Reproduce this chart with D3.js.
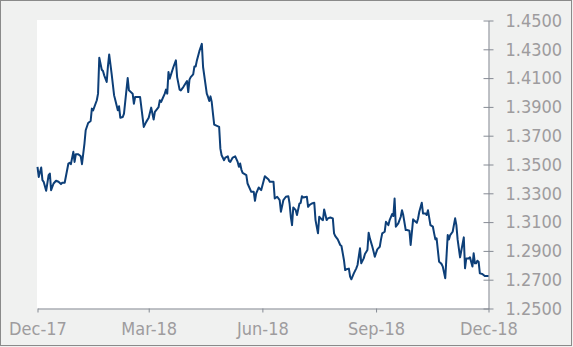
<!DOCTYPE html>
<html>
<head>
<meta charset="utf-8">
<script src="https://cdn.jsdelivr.net/npm/d3@7"></script>
<style>
  html, body { margin: 0; padding: 0; background: #f0f1f0; }
  svg { display: block; }
  .tick text { font-family: "DejaVu Sans Condensed", "DejaVu Sans", sans-serif; font-stretch: condensed; font-size: 18px; fill: #9e9c9e; }
</style>
</head>
<body>
<svg width="573" height="347"></svg>
<script>
// GBP/USD, Dec-17 to Dec-18
const dates = [
  "2017-12-01","2017-12-02","2017-12-04","2017-12-05","2017-12-06","2017-12-08","2017-12-10","2017-12-11","2017-12-12","2017-12-14",
  "2017-12-16","2017-12-18","2017-12-20","2017-12-21","2017-12-23","2017-12-26","2017-12-27","2017-12-28","2017-12-30","2017-12-31",
  "2018-01-01","2018-01-03","2018-01-05","2018-01-06","2018-01-08","2018-01-09","2018-01-11","2018-01-13","2018-01-14","2018-01-15",
  "2018-01-18","2018-01-19","2018-01-20","2018-01-22","2018-01-23","2018-01-24","2018-01-26","2018-01-27","2018-01-28","2018-01-30",
  "2018-02-01","2018-02-02","2018-02-04","2018-02-05","2018-02-06","2018-02-08","2018-02-09","2018-02-12","2018-02-13","2018-02-16",
  "2018-02-17","2018-02-18","2018-02-20","2018-02-22","2018-02-25","2018-02-27","2018-03-01","2018-03-03","2018-03-05","2018-03-06",
  "2018-03-09","2018-03-10","2018-03-11","2018-03-14","2018-03-15","2018-03-16","2018-03-17","2018-03-18","2018-03-21","2018-03-23",
  "2018-03-24","2018-03-26","2018-03-27","2018-03-29","2018-03-31","2018-04-01","2018-04-02","2018-04-03","2018-04-04","2018-04-06",
  "2018-04-07","2018-04-08","2018-04-09","2018-04-11","2018-04-13","2018-04-14","2018-04-17","2018-04-18","2018-04-19","2018-04-20",
  "2018-04-21","2018-04-22","2018-04-23","2018-04-27","2018-04-28","2018-04-29","2018-05-01","2018-05-02","2018-05-04","2018-05-05",
  "2018-05-06","2018-05-08","2018-05-10","2018-05-12","2018-05-13","2018-05-14","2018-05-15","2018-05-16","2018-05-19","2018-05-20",
  "2018-05-23","2018-05-25","2018-05-26","2018-05-27","2018-05-29","2018-05-31","2018-06-03","2018-06-06","2018-06-07","2018-06-10",
  "2018-06-11","2018-06-13","2018-06-15","2018-06-16","2018-06-18","2018-06-20","2018-06-22","2018-06-23","2018-06-24","2018-06-25",
  "2018-06-26","2018-06-28","2018-06-29","2018-07-01","2018-07-02","2018-07-03","2018-07-04","2018-07-07","2018-07-08","2018-07-09",
  "2018-07-11","2018-07-13","2018-07-14","2018-07-16","2018-07-17","2018-07-19","2018-07-20","2018-07-21","2018-07-23","2018-07-24",
  "2018-07-26","2018-07-28","2018-07-29","2018-07-30","2018-08-01","2018-08-03","2018-08-04","2018-08-06","2018-08-07","2018-08-08",
  "2018-08-10","2018-08-11","2018-08-12","2018-08-14","2018-08-16","2018-08-17","2018-08-19","2018-08-20","2018-08-22","2018-08-23",
  "2018-08-25","2018-08-26","2018-08-27","2018-08-29","2018-08-30","2018-08-31","2018-09-02","2018-09-04","2018-09-05","2018-09-06",
  "2018-09-08","2018-09-09","2018-09-11","2018-09-12","2018-09-14","2018-09-15","2018-09-16","2018-09-17","2018-09-19","2018-09-21",
  "2018-09-22","2018-09-23","2018-09-25","2018-09-26","2018-09-28","2018-09-29","2018-10-01","2018-10-03","2018-10-04","2018-10-05",
  "2018-10-06","2018-10-08","2018-10-09","2018-10-11","2018-10-12","2018-10-13","2018-10-15","2018-10-17","2018-10-18","2018-10-19",
  "2018-10-20","2018-10-22","2018-10-23","2018-10-24","2018-10-25","2018-10-27","2018-10-29","2018-10-30","2018-10-31","2018-11-02",
  "2018-11-04","2018-11-05","2018-11-06","2018-11-08","2018-11-11","2018-11-12","2018-11-13","2018-11-15","2018-11-16","2018-11-18",
  "2018-11-19","2018-11-20","2018-11-21","2018-11-22","2018-11-23","2018-11-24","2018-11-26","2018-11-27","2018-11-28","2018-11-30",
  "2018-12-01"
];
const rates = [
  1.3484,1.3414,1.3479,1.3391,1.3380,1.3317,1.3426,1.3437,1.3322,1.3368,
  1.3387,1.3380,1.3364,1.3373,1.3373,1.3507,1.3512,1.3502,1.3588,1.3518,
  1.3571,1.3571,1.3557,1.3502,1.3645,1.3738,1.3788,1.3802,1.3888,1.3876,
  1.3946,1.3992,1.4241,1.4158,1.4149,1.4119,1.4073,1.4181,1.4264,1.4130,
  1.3980,1.3946,1.3876,1.3904,1.3825,1.3830,1.3853,1.4100,1.4015,1.3992,
  1.3922,1.3969,1.3969,1.3969,1.3761,1.3796,1.3825,1.3895,1.3812,1.3865,
  1.3899,1.3946,1.3934,1.3992,1.4020,1.3992,1.4142,1.4096,1.4177,1.4223,
  1.4107,1.4020,1.4015,1.4038,1.4066,1.4080,1.4003,1.4089,1.4107,1.4126,
  1.4181,1.4181,1.4223,1.4287,1.4338,1.4177,1.3992,1.3969,1.3941,1.3973,
  1.3934,1.3853,1.3777,1.3761,1.3610,1.3564,1.3530,1.3548,1.3557,1.3525,
  1.3518,1.3548,1.3557,1.3518,1.3484,1.3507,1.3465,1.3442,1.3426,1.3368,
  1.3310,1.3310,1.3248,1.3299,1.3340,1.3322,1.3419,1.3396,1.3380,1.3380,
  1.3264,1.3276,1.3253,1.3172,1.3253,1.3276,1.3280,1.3229,1.3137,1.3079,
  1.3202,1.3183,1.3149,1.3229,1.3234,1.3280,1.3271,1.3276,1.3206,1.3218,
  1.3229,1.3234,1.3114,1.3022,1.3137,1.3119,1.3114,1.3188,1.3114,1.3126,
  1.3132,1.3126,1.3022,1.3003,1.2980,1.2941,1.2934,1.2837,1.2767,1.2772,
  1.2777,1.2721,1.2703,1.2744,1.2779,1.2802,1.2918,1.2814,1.2848,1.2878,
  1.2906,1.3026,1.2987,1.2929,1.2895,1.2860,1.2911,1.2929,1.2980,1.3022,
  1.3033,1.3102,1.3079,1.3114,1.3156,1.3142,1.3264,1.3068,1.3091,1.3137,
  1.3183,1.3149,1.3045,1.3045,1.3040,1.2941,1.3119,1.3102,1.3095,1.3125,
  1.3172,1.3234,1.3160,1.3160,1.3149,1.3183,1.3079,1.3068,1.3022,1.2980,
  1.2987,1.2825,1.2818,1.2809,1.2791,1.2710,1.3010,1.2980,1.3010,1.3033,
  1.3126,1.3079,1.2980,1.2855,1.2994,1.2779,1.2848,1.2848,1.2855,1.2791,
  1.2883,1.2814,1.2814,1.2832,1.2825,1.2744,1.2740,1.2733,1.2726,1.2726,
  1.2726
];
const xTickLabels = ["2017-12-01", "2018-03-01", "2018-06-01", "2018-09-01", "2018-12-01"];
const yTickValues = [1.25, 1.27, 1.29, 1.31, 1.33, 1.35, 1.37, 1.39, 1.41, 1.43, 1.45];

const parseDate = d3.timeParse("%Y-%m-%d");
const data = dates.map((d, i) => ({ date: parseDate(d), value: rates[i] }));

const svg = d3.select("svg");
const plotLeft = 37.5, plotRight = 488.5, plotTop = 20.5, plotBottom = 308.5;

const x = d3.scaleTime()
  .domain([parseDate(xTickLabels[0]), parseDate(xTickLabels[xTickLabels.length - 1])])
  .range([plotLeft, plotRight]);
const y = d3.scaleLinear()
  .domain([1.25, 1.45])
  .range([plotBottom, plotTop]);

// outer frame
svg.append("rect")
  .attr("x", 0.5).attr("y", 0.5)
  .attr("width", 571).attr("height", 345)
  .attr("fill", "#f0f1f0")
  .attr("stroke", "#8a8a8a");

// plot area
svg.append("rect")
  .attr("x", 37).attr("y", 20)
  .attr("width", plotRight - 37).attr("height", plotBottom - 20)
  .attr("fill", "#ffffff");

// x axis
const xAxis = svg.append("g")
  .attr("transform", `translate(0,${plotBottom})`)
  .call(d3.axisBottom(x)
    .tickValues(xTickLabels.map(parseDate))
    .tickFormat(d3.timeFormat("%b-%y"))
    .tickSize(4)
    .tickSizeOuter(0)
    .tickPadding(10));
xAxis.select(".domain").attr("stroke", "#868b94");
xAxis.selectAll(".tick line").attr("stroke", "#868b94");

// y axis on the right, ticks crossing the line
const yAxis = svg.append("g")
  .attr("transform", `translate(${plotRight},0)`)
  .call(d3.axisRight(y)
    .tickValues(yTickValues)
    .tickFormat(d3.format(".4f"))
    .tickSize(5)
    .tickSizeOuter(0)
    .tickPadding(12));
yAxis.select(".domain").attr("stroke", "#868b94");
yAxis.selectAll(".tick line").attr("x1", -5).attr("x2", 5).attr("stroke", "#868b94");

// the series
const line = d3.line()
  .x(d => x(d.date))
  .y(d => y(d.value));

svg.append("path")
  .datum(data)
  .attr("fill", "none")
  .attr("stroke", "#0d3f78")
  .attr("stroke-width", 2)
  .attr("stroke-linejoin", "round")
  .attr("d", line);
</script>
</body>
</html>
